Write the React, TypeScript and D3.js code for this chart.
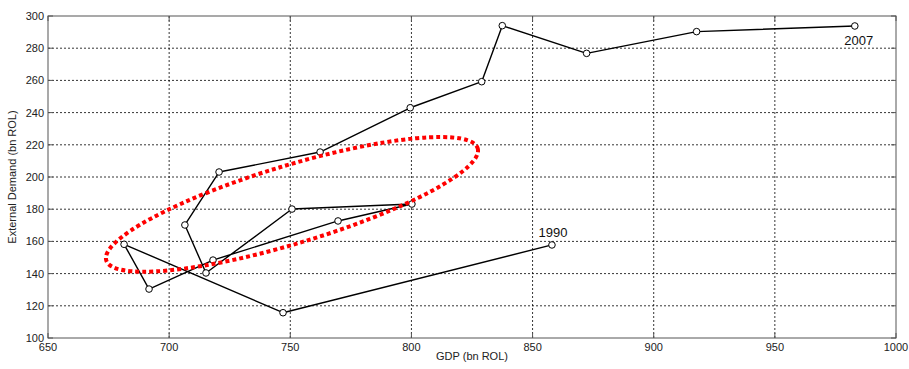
import * as d3 from "d3"

// GDP vs external demand, 1990 -> 2007 (bn ROL)
const years = [1990, 1991, 1992, 1993, 1994, 1995, 1996, 1997, 1998, 1999, 2000, 2001, 2002, 2003, 2004, 2005, 2006, 2007]
const gdp = [858, 747, 681.4, 691.7, 718.1, 769.7, 800.2, 750.7, 715.2, 706.5, 720.6, 762.3, 799.5, 829, 837.5, 872.3, 917.7, 983]
const demand = [157.8, 115.7, 158.2, 130.4, 148.4, 172.7, 183.2, 180.1, 140.4, 170.2, 203.1, 215.5, 243, 259.2, 294, 276.8, 290.3, 293.8]

const xTicks = [650, 700, 750, 800, 850, 900, 950, 1000]
const yTicks = [100, 120, 140, 160, 180, 200, 220, 240, 260, 280, 300]

// highlighted cluster (data units for centre)
const ellipseCenter = [750.7, 183]

export default function App() {
  const width = 909
  const height = 369
  const margin = {top: 16, right: 13, bottom: 31, left: 48}
  const x = d3.scaleLinear().domain([650, 1000]).range([margin.left, width - margin.right])
  const y = d3.scaleLinear().domain([100, 300]).range([height - margin.bottom, margin.top])
  const font = "'Liberation Sans', Arial, sans-serif"
  const pts = years.map((yr, i) => ({yr, gx: gdp[i], dy: demand[i]}))
  const line = d3
    .line<{gx: number; dy: number}>()
    .x((d) => x(d.gx))
    .y((d) => y(d.dy))

  const [x0, x1] = x.range()
  const [y0, y1] = y.range()
  const first = pts[0]
  const last = pts[pts.length - 1]

  return (
    <svg
      width={width}
      height={height}
      style={{position: "absolute", left: 0, top: 0, background: "#fff"}}
      fontFamily={font}
    >
      {/* grid */}
      <g stroke="#000" strokeWidth={0.8} strokeDasharray="2,2">
        {xTicks.slice(1, -1).map((t) => (
          <line key={t} x1={x(t)} x2={x(t)} y1={y1} y2={y0} />
        ))}
        {yTicks.slice(1, -1).map((t) => (
          <line key={t} x1={x0} x2={x1} y1={y(t)} y2={y(t)} />
        ))}
      </g>

      {/* frame and ticks */}
      <rect x={x0} y={y1} width={x1 - x0} height={y0 - y1} fill="none" stroke="#555" strokeWidth={1} />
      <g stroke="#555" strokeWidth={1}>
        {xTicks.map((t) => (
          <g key={t}>
            <line x1={x(t)} x2={x(t)} y1={y0} y2={y0 - 5} />
            <line x1={x(t)} x2={x(t)} y1={y1} y2={y1 + 5} />
          </g>
        ))}
        {yTicks.map((t) => (
          <g key={t}>
            <line x1={x0} x2={x0 + 5} y1={y(t)} y2={y(t)} />
            <line x1={x1} x2={x1 - 5} y1={y(t)} y2={y(t)} />
          </g>
        ))}
      </g>

      {/* tick labels */}
      <g fontSize={11} fill="#222">
        {xTicks.map((t) => (
          <text key={t} x={x(t)} y={y0 + 13} textAnchor="middle">
            {t}
          </text>
        ))}
        {yTicks.map((t) => (
          <text key={t} x={x0 - 4} y={y(t) + 4} textAnchor="end">
            {t}
          </text>
        ))}
      </g>
      <text x={(x0 + x1) / 2} y={360} fontSize={11} textAnchor="middle" fill="#222">
        GDP (bn ROL)
      </text>
      <text
        transform={`translate(16,${(y0 + y1) / 2}) rotate(-90)`}
        fontSize={11}
        textAnchor="middle"
        fill="#222"
      >
        External Demand (bn ROL)
      </text>

      {/* trajectory */}
      <path d={line(pts) ?? ""} fill="none" stroke="#000" strokeWidth={1.4} strokeLinejoin="round" />
      {pts.map((d) => (
        <circle key={d.yr} cx={x(d.gx)} cy={y(d.dy)} r={3.3} fill="#fff" stroke="#000" strokeWidth={1} />
      ))}

      {/* highlighted cluster */}
      <ellipse
        cx={0}
        cy={0}
        rx={194}
        ry={39}
        fill="none"
        stroke="#f00"
        strokeWidth={4}
        strokeDasharray="4,3"
        transform={`translate(${x(ellipseCenter[0])},${y(ellipseCenter[1])}) rotate(-16.8)`}
      />

      {/* year labels */}
      <text x={x(first.gx) + 1} y={y(first.dy) - 8} fontSize={13} textAnchor="middle" fill="#111">
        {first.yr}
      </text>
      <text x={x(last.gx) + 4} y={y(last.dy) + 19} fontSize={13} textAnchor="middle" fill="#111">
        {last.yr}
      </text>
    </svg>
  )
}
